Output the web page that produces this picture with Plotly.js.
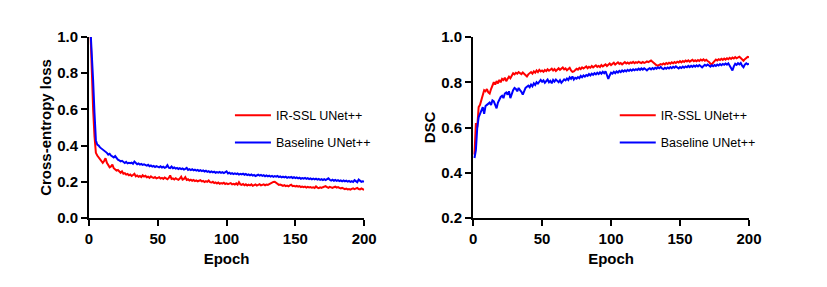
<!DOCTYPE html>
<html>
<head>
<meta charset="utf-8">
<script src="https://cdn.plot.ly/plotly-3.0.1.min.js"></script>
<style>html,body{margin:0;padding:0;background:#fff;}#chart{width:827px;height:287px;}</style>
</head>
<body>
<div id="chart"></div>
<script>
const seriesNames = ["IR-SSL UNet++", "Baseline UNet++"];
const xTickVals = [0, 50, 100, 150, 200];
const lossTickVals = [0.0, 0.2, 0.4, 0.6, 0.8, 1.0];
const dscTickVals = [0.2, 0.4, 0.6, 0.8, 1.0];

const lossIRSSL = [
1.05,0.80,0.60,0.45,0.36,0.345,0.335,0.32,0.31,0.305,
0.315,0.33,0.305,0.29,0.28,0.285,0.295,0.275,0.268,0.262,
0.265,0.255,0.25,0.258,0.245,0.248,0.24,0.243,0.236,0.24,
0.232,0.238,0.244,0.23,0.235,0.228,0.232,0.226,0.236,0.229,
0.233,0.225,0.228,0.222,0.23,0.224,0.221,0.226,0.219,0.222,
0.225,0.218,0.222,0.216,0.224,0.219,0.214,0.221,0.235,0.216,
0.219,0.213,0.22,0.215,0.211,0.218,0.228,0.212,0.216,0.226,
0.21,0.214,0.207,0.212,0.206,0.21,0.204,0.208,0.203,0.206,
0.209,0.202,0.205,0.199,0.204,0.2,0.207,0.198,0.196,0.2,
0.193,0.197,0.191,0.196,0.189,0.193,0.19,0.195,0.188,0.191,
0.187,0.19,0.193,0.186,0.189,0.185,0.191,0.184,0.198,0.186,
0.183,0.188,0.181,0.186,0.179,0.184,0.18,0.186,0.178,0.182,
0.185,0.179,0.183,0.187,0.18,0.184,0.186,0.181,0.185,0.183,
0.188,0.192,0.196,0.199,0.2,0.193,0.187,0.183,0.185,0.18,
0.178,0.182,0.176,0.179,0.175,0.18,0.184,0.176,0.178,0.174,
0.177,0.173,0.176,0.171,0.174,0.17,0.173,0.168,0.172,0.169,
0.171,0.167,0.17,0.166,0.175,0.168,0.165,0.169,0.166,0.17,
0.172,0.176,0.17,0.167,0.172,0.169,0.166,0.17,0.173,0.168,
0.171,0.166,0.163,0.167,0.161,0.159,0.162,0.158,0.16,0.157,
0.161,0.164,0.159,0.162,0.166,0.16,0.158,0.163,0.157,0.155
];
const lossBaseline = [
1.05,0.92,0.76,0.58,0.43,0.405,0.4,0.39,0.385,0.375,
0.37,0.365,0.36,0.35,0.355,0.345,0.34,0.335,0.342,0.328,
0.322,0.318,0.313,0.316,0.307,0.304,0.31,0.302,0.305,0.303,
0.306,0.3,0.312,0.305,0.297,0.301,0.295,0.299,0.293,0.296,
0.292,0.289,0.294,0.286,0.29,0.284,0.288,0.282,0.287,0.283,
0.28,0.286,0.279,0.283,0.277,0.281,0.292,0.278,0.276,0.284,
0.275,0.279,0.273,0.277,0.271,0.275,0.27,0.274,0.268,0.272,
0.277,0.266,0.27,0.265,0.269,0.263,0.267,0.262,0.266,0.26,
0.264,0.259,0.263,0.257,0.261,0.255,0.259,0.253,0.257,0.252,
0.256,0.25,0.254,0.251,0.255,0.249,0.253,0.248,0.252,0.258,
0.246,0.25,0.244,0.248,0.243,0.247,0.242,0.246,0.24,0.244,
0.241,0.245,0.239,0.243,0.237,0.241,0.236,0.24,0.234,0.238,
0.232,0.236,0.239,0.234,0.238,0.233,0.237,0.231,0.235,0.23,
0.234,0.229,0.233,0.227,0.231,0.228,0.232,0.226,0.23,0.225,
0.229,0.224,0.228,0.222,0.226,0.223,0.227,0.221,0.225,0.22,
0.224,0.219,0.223,0.217,0.221,0.218,0.222,0.216,0.22,0.215,
0.219,0.214,0.218,0.213,0.217,0.212,0.216,0.211,0.215,0.21,
0.214,0.209,0.213,0.219,0.211,0.207,0.212,0.206,0.21,0.205,
0.209,0.204,0.208,0.203,0.207,0.202,0.206,0.201,0.205,0.2,
0.204,0.199,0.209,0.202,0.198,0.212,0.204,0.2,0.203,0.201
];
const dscIRSSL = [
0.48,0.62,0.6,0.69,0.70,0.72,0.74,0.765,0.76,0.77,
0.755,0.75,0.77,0.785,0.8,0.79,0.805,0.795,0.81,0.8,
0.815,0.81,0.82,0.805,0.815,0.825,0.818,0.83,0.84,0.835,
0.842,0.838,0.845,0.84,0.836,0.843,0.838,0.83,0.826,0.835,
0.84,0.845,0.838,0.848,0.842,0.852,0.845,0.855,0.848,0.852,
0.846,0.854,0.849,0.857,0.851,0.855,0.86,0.852,0.858,0.85,
0.856,0.862,0.855,0.859,0.865,0.857,0.861,0.853,0.858,0.864,
0.852,0.846,0.848,0.855,0.86,0.856,0.863,0.858,0.866,0.861,
0.865,0.87,0.862,0.868,0.864,0.872,0.866,0.87,0.875,0.868,
0.872,0.867,0.876,0.87,0.874,0.879,0.872,0.877,0.883,0.876,
0.88,0.886,0.878,0.882,0.888,0.881,0.885,0.879,0.884,0.889,
0.883,0.887,0.882,0.888,0.885,0.89,0.884,0.889,0.886,0.891,
0.887,0.885,0.89,0.886,0.888,0.892,0.889,0.894,0.896,0.891,
0.886,0.878,0.875,0.873,0.876,0.88,0.878,0.883,0.879,0.885,
0.881,0.886,0.882,0.888,0.884,0.889,0.885,0.891,0.887,0.893,
0.888,0.894,0.89,0.896,0.892,0.897,0.891,0.895,0.899,0.893,
0.897,0.893,0.898,0.894,0.9,0.896,0.901,0.895,0.899,0.894,
0.89,0.882,0.879,0.887,0.895,0.9,0.896,0.902,0.898,0.904,
0.899,0.905,0.9,0.906,0.902,0.908,0.903,0.909,0.905,0.911,
0.906,0.91,0.913,0.907,0.9,0.895,0.902,0.908,0.912,0.91
];
const dscBaseline = [
0.465,0.5,0.6,0.645,0.66,0.675,0.69,0.66,0.695,0.70,
0.705,0.71,0.7,0.72,0.715,0.7,0.685,0.71,0.725,0.735,
0.74,0.73,0.75,0.755,0.745,0.76,0.73,0.75,0.765,0.775,
0.77,0.76,0.775,0.765,0.758,0.745,0.76,0.775,0.78,0.785,
0.778,0.79,0.782,0.795,0.788,0.8,0.794,0.805,0.81,0.802,
0.808,0.798,0.804,0.812,0.8,0.806,0.795,0.81,0.803,0.812,
0.806,0.8,0.809,0.798,0.805,0.813,0.808,0.816,0.81,0.822,
0.815,0.826,0.812,0.82,0.816,0.823,0.818,0.828,0.822,0.83,
0.825,0.832,0.828,0.836,0.83,0.838,0.833,0.84,0.835,0.842,
0.836,0.844,0.838,0.846,0.84,0.848,0.832,0.815,0.83,0.842,
0.838,0.846,0.84,0.848,0.843,0.85,0.845,0.852,0.847,0.853,
0.848,0.855,0.85,0.856,0.851,0.857,0.853,0.858,0.854,0.86,
0.855,0.861,0.856,0.862,0.857,0.852,0.858,0.862,0.857,0.863,
0.858,0.864,0.86,0.866,0.862,0.868,0.861,0.858,0.864,0.86,
0.865,0.861,0.867,0.862,0.868,0.864,0.87,0.865,0.861,0.867,
0.863,0.869,0.864,0.87,0.866,0.872,0.867,0.873,0.868,0.874,
0.869,0.875,0.87,0.876,0.871,0.866,0.872,0.877,0.873,0.878,
0.874,0.869,0.875,0.871,0.876,0.872,0.878,0.874,0.88,0.875,
0.881,0.877,0.883,0.878,0.884,0.875,0.866,0.852,0.87,0.882,
0.877,0.884,0.879,0.885,0.873,0.866,0.878,0.884,0.879,0.882
];
const epochs = lossIRSSL.map((_, i) => i + 1);

const RED = "#ff0000", BLUE = "#0000ff";
const FONT = "Arial, 'Liberation Sans', sans-serif";

function tr(y, name, color, xa, ya, legend, group) {
  return {x: epochs, y: y, name: name, type: "scatter", mode: "lines",
    line: {color: color, width: 2}, xaxis: xa, yaxis: ya,
    legend: legend, legendgroup: group};
}
const data = [
  tr(lossIRSSL, seriesNames[0], RED, "x", "y", "legend", "a"),
  tr(lossBaseline, seriesNames[1], BLUE, "x", "y", "legend", "b"),
  tr(dscIRSSL, seriesNames[0], RED, "x2", "y2", "legend2", "c"),
  tr(dscBaseline, seriesNames[1], BLUE, "x2", "y2", "legend2", "d")
];

const tickFont = {family: FONT, size: 15, color: "#000", weight: "bold"};
const titleFont = {family: FONT, size: 15, color: "#000", weight: "bold"};
function xAx(domain, anchor) {
  return {domain: domain, anchor: anchor, range: [0, 200], tickvals: xTickVals,
    showline: true, linecolor: "#000", linewidth: 2, ticks: "outside", ticklen: 6,
    tickwidth: 2, tickcolor: "#000", showgrid: false, zeroline: false,
    tickfont: tickFont, title: {text: "Epoch", font: titleFont, standoff: 7}};
}
function yAx(range, tv, title, anchor) {
  return {domain: [0, 1], anchor: anchor, range: range, tickvals: tv, tickformat: ".1f",
    showline: true, linecolor: "#000", linewidth: 2, ticks: "outside", ticklen: 6,
    tickwidth: 2, tickcolor: "#000", showgrid: false, zeroline: false,
    tickfont: tickFont, title: {text: title, font: titleFont, standoff: 2}};
}
const legendBase = {font: {family: FONT, size: 12.5, color: "#000"}, bgcolor: "rgba(0,0,0,0)",
  borderwidth: 0, traceorder: "grouped", tracegroupgap: 8, itemwidth: 36,
  xanchor: "left", yanchor: "top", xref: "paper", yref: "paper"};

const layout = {
  width: 827, height: 287,
  margin: {l: 89, r: 77.7, t: 37.3, b: 68.7, autoexpand: false},
  paper_bgcolor: "#fff", plot_bgcolor: "#fff",
  showlegend: true,
  xaxis: xAx([0, 0.4169], "y"),
  yaxis: yAx([0, 1], lossTickVals, "Cross-entropy loss", "x"),
  xaxis2: xAx([0.582, 1], "y2"),
  yaxis2: yAx([0.2, 1], dscTickVals, "DSC", "x2"),
  legend: Object.assign({}, legendBase, {x: (230 - 89) / 660.3, y: 1 - (101 - 37.3) / 181}),
  legend2: Object.assign({}, legendBase, {x: (615 - 89) / 660.3, y: 1 - (101 - 37.3) / 181})
};

Plotly.newPlot("chart", data, layout, {displayModeBar: false, staticPlot: true});
</script>
</body>
</html>
